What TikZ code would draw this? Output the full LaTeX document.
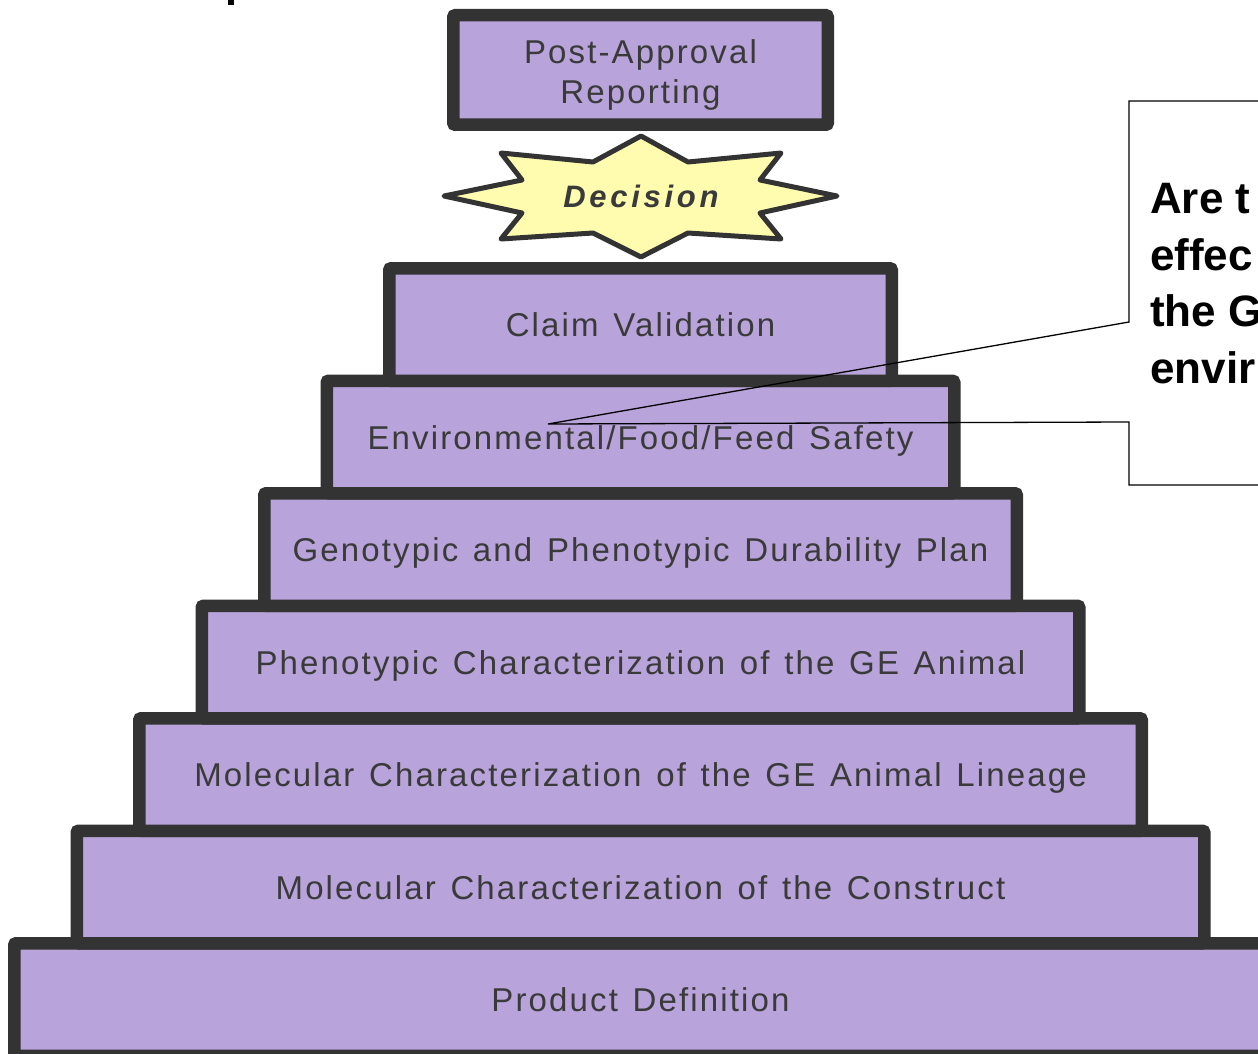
\documentclass[tikz,border=0pt]{standalone}
\usepackage{fontspec}
\setmainfont{Liberation Sans}
\newfontfamily\stepfont{Liberation Sans}[LetterSpace=6.5,WordSpace=1.3]
\newfontfamily\decfont{Liberation Sans}[LetterSpace=12]
\definecolor{stepfill}{HTML}{B9A3DB}
\definecolor{stepline}{HTML}{333333}
\definecolor{steptext}{HTML}{3A3A3A}
\definecolor{starfill}{HTML}{FFFCB0}
\begin{document}
\begin{tikzpicture}[x=1pt,y=-1pt,
  stepbox/.style={draw=stepline, fill=stepfill, line width=12.5pt, rounded corners=2pt,
    inner sep=0pt, text=steptext, font=\stepfont\fontsize{33}{40}\selectfont,
    text height=24pt, text depth=0pt, minimum height=112.5pt},
  steplabel/.style={anchor=base, inner sep=0pt, text=steptext, font=\stepfont\fontsize{33}{40}\selectfont},
  calloutline/.style={draw=black, line width=1.3pt, line join=miter},
  callouttext/.style={anchor=base west, inner sep=0pt, font=\bfseries\fontsize{44}{56}\selectfont}]
\useasboundingbox (0,0) rectangle (1258,1054);
\clip (0,0) rectangle (1258,1054);
% fragment of cut-off title
\fill[black] (228,0) rectangle (234,5);
% steps
\node[stepbox, minimum width=1252.5pt] (s6) at (640.5,999.5) {Product Definition};
\node[stepbox, minimum width=1127.5pt] (s5) at (640.5,887) {Molecular Characterization of the Construct};
\node[stepbox, minimum width=1002.5pt] (s4) at (640.5,774.5) {Molecular Characterization of the GE Animal Lineage};
\node[stepbox, minimum width=877.5pt] (s3) at (640.5,662) {Phenotypic Characterization of the GE Animal};
\node[stepbox, minimum width=752.5pt] (s2) at (640.5,549.5) {Genotypic and Phenotypic Durability Plan};
\node[stepbox, minimum width=627.5pt] (s1) at (640.5,437) {Environmental/Food/Feed Safety};
\node[stepbox, minimum width=502.5pt] (s0) at (640.5,324.5) {Claim Validation};
% top box
\node[stepbox, minimum width=374.5pt, minimum height=109.5pt] (top) at (640.5,70) {};
\node[steplabel] (top1) at (640.5,63.5) {Post-Approval};
\node[steplabel] (top2) at (640.5,103.5) {Reporting};
% decision star
\filldraw[fill=starfill, draw=stepline, line width=5pt, line join=round]
  (641,136) -- (688,162) -- (781,153) -- (760,180) -- (837,196) -- (760,213) -- (781,239) -- (688,233)
  -- (641,257) -- (593,233) -- (501,239) -- (522,213) -- (444,196) -- (522,180) -- (501,153) -- (593,162) -- cycle;
\node[inner sep=0pt, text=steptext, font=\decfont\bfseries\itshape\fontsize{31}{36}\selectfont] (dec) at (641,196) {Decision};
% callout
\coordinate (tip) at (548,424);
\draw[calloutline] (1270,101) -- (1129,101) -- (1129,322) -- (tip) -- (1129,422) -- (1129,485) -- (1270,485);
\node[callouttext] (c1) at (1150,213.3) {Are t};
\node[callouttext] (c2) at (1150,270) {effec};
\node[callouttext] (c3) at (1150,326.7) {the G};
\node[callouttext] (c4) at (1150,383.3) {envir};
\end{tikzpicture}
\end{document}
